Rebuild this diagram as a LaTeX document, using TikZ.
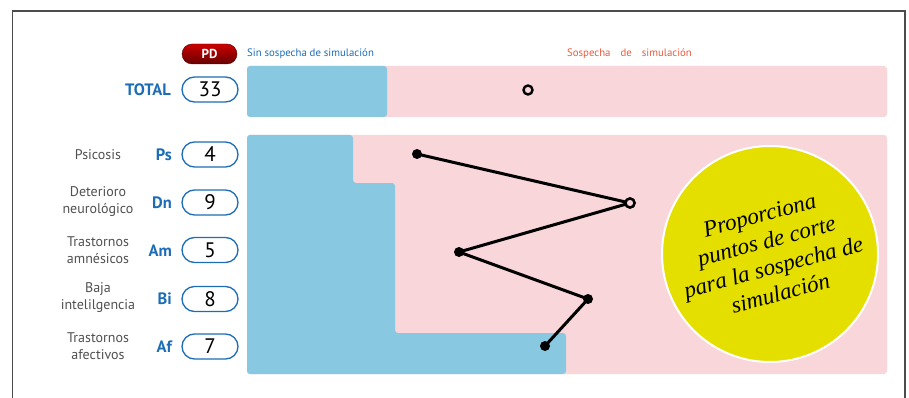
\documentclass[tikz,border=0pt]{standalone}
\usepackage{fontspec}
\setmainfont{PT Sans}
\newfontfamily\circfont{Liberation Serif}
\usetikzlibrary{shapes.misc}
\definecolor{barblue}{HTML}{88C8E1}
\definecolor{barpink}{HTML}{F9D6DA}
\definecolor{lblue}{HTML}{1C6DB5}
\definecolor{lred}{HTML}{E85A3C}
\definecolor{ygold}{HTML}{E5DF00}
\definecolor{gtext}{HTML}{505050}
\tikzset{
  valbox/.style={rounded rectangle, draw=lblue, line width=1.3pt, minimum width=56pt, minimum height=25pt, inner sep=0pt, fill=white, font=\fontsize{21}{21}\selectfont, text=black},
  abbr/.style={anchor=east, text=lblue, font=\bfseries\fontsize{16.5}{16.5}\selectfont, inner sep=0pt},
  rowlbl/.style={align=center, text=gtext, font=\fontsize{14}{17}\selectfont, inner sep=0pt},
  dotf/.style={circle, fill=black, minimum size=10pt, inner sep=0pt},
  doth/.style={circle, draw=black, fill=barpink, line width=2.4pt, minimum size=9pt, inner sep=0pt},
  zig/.style={line width=3pt, black},
}
\begin{document}
\begin{tikzpicture}[x=1pt,y=-1pt]
\useasboundingbox (0,0) rectangle (909,398);
\draw[gray!60!black, line width=1.2pt] (12.5,398) -- (12.5,11) -- (905,11) -- (905,398);

% header
\node[rounded rectangle, draw=red!35!black, top color=red!80!black, bottom color=red!40!black, minimum width=55pt, minimum height=20pt, inner sep=0pt, text=white, font=\bfseries\fontsize{13}{13}\selectfont] (pd) at (209.5,54) {PD};
\node[anchor=west, text=lblue, font=\fontsize{10.8}{11}\selectfont, inner sep=0pt] (sin) at (247,54) {Sin sospecha de simulación};
\node[text=lred, font=\fontsize{10.8}{11}\selectfont, inner sep=0pt] (con) at (629.5,54) {Sospecha\hspace{10pt}de\hspace{10pt}simulación};

% total bar
\fill[barpink, rounded corners=3pt] (247,66) rectangle (887,117);
\fill[barblue, rounded corners=3pt] (247,66) rectangle (387,117);
\node[abbr] (total) at (171,90) {TOTAL};
\node[valbox] (vtot) at (210,89.5) {33};
\node[doth] (dtot) at (528,90) {};

% lower chart
\fill[barpink, rounded corners=3pt] (247,135) rectangle (887,374);
\fill[barblue, rounded corners=3pt] (247,135) -- (353,135) -- (353,183) -- (395,183) -- (395,333) -- (566,333) -- (566,374) -- (247,374) -- cycle;

% rows
\node[rowlbl] (l1) at (98,155) {Psicosis};
\node[rowlbl] (l2) at (98,202) {Deterioro\\neurológico};
\node[rowlbl] (l3) at (98,250) {Trastornos\\amnésicos};
\node[rowlbl] (l4) at (98,298) {Baja\\intelilgencia};
\node[rowlbl] (l5) at (98,346) {Trastornos\\afectivos};

\node[abbr] (a1) at (172,155) {Ps};
\node[abbr] (a2) at (172,203) {Dn};
\node[abbr] (a3) at (172,251) {Am};
\node[abbr] (a4) at (172,299) {Bi};
\node[abbr] (a5) at (172,347) {Af};

\node[valbox] (v1) at (210,154.5) {4};
\node[valbox] (v2) at (210,202.5) {9};
\node[valbox] (v3) at (210,250) {5};
\node[valbox] (v4) at (210,299) {8};
\node[valbox] (v5) at (210,346.5) {7};

% zigzag profile
\node[dotf] (p1) at (417,154) {};
\node[doth] (p2) at (630,203) {};
\node[dotf] (p3) at (459,252) {};
\node[dotf] (p4) at (588,299) {};
\node[dotf] (p5) at (545,346) {};
\draw[zig] (p1.center) -- (p2.center) -- (p3.center) -- (p4.center) -- (p5.center);
\node[doth] at (p2) {};

% yellow circle
\node[circle, fill=ygold, draw=white, line width=2pt, minimum size=216pt, inner sep=0pt] (circ) at (770,254) {};
\node[rotate=15, align=center, text=black, font=\circfont\itshape\fontsize{23}{27}\selectfont, inner sep=0pt] (ctext) at (circ.center) {Proporciona\\puntos de corte\\para la sospecha de\\simulación};
\end{tikzpicture}
\end{document}
